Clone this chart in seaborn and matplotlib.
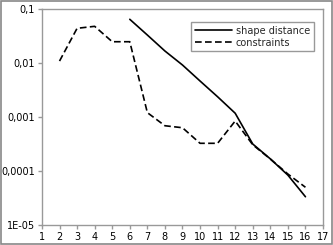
import matplotlib
matplotlib.use("Agg")
import matplotlib.pyplot as plt
import seaborn as sns
import pandas as pd
from matplotlib.patches import Rectangle

shape_x = [6, 7, 8, 9, 10, 11, 12, 13, 14, 15, 16]
shape_y = [0.0653, 0.0334, 0.0169, 0.0093, 0.0047, 0.0024, 0.00119, 0.00032, 0.00017, 0.000085, 0.0000338]
cons_x = [2, 3, 4, 5, 6, 7, 8, 9, 10, 11, 12, 13, 14, 15, 16]
cons_y = [0.0110, 0.0445, 0.0484, 0.0251, 0.0251, 0.00122, 0.000698, 0.000641, 0.00033, 0.00033,
          0.000853, 0.00031, 0.000169, 0.0000891, 0.0000506]
series_names = ["shape distance", "constraints"]
xticks = list(range(1, 18))
yticks = [1e-5, 1e-4, 1e-3, 1e-2, 1e-1]
ytick_labels = ["1E-05", "0,0001", "0,001", "0,01", "0,1"]

df = pd.concat([
    pd.DataFrame({"x": shape_x, "y": shape_y, "series": series_names[0]}),
    pd.DataFrame({"x": cons_x, "y": cons_y, "series": series_names[1]}),
])

sns.set_style("white")
plt.rcParams["font.family"] = ["DejaVu Sans"]

fig = plt.figure(figsize=(3.33, 2.45), dpi=100)
ax = fig.add_axes([0.126, 0.0804, 0.844, 0.8816])

sns.lineplot(data=df, x="x", y="y", style="series", color="black",
             dashes={series_names[0]: "", series_names[1]: (4, 2)},
             linewidth=1.2, ax=ax, estimator=None, sort=False)

ax.set_yscale("log")
ax.set_xlim(1, 17)
ax.set_ylim(1e-5, 1e-1)
ax.set_xticks(xticks)
ax.set_xticklabels([str(t) for t in xticks], fontsize=7)
ax.set_yticks(yticks)
ax.set_yticklabels(ytick_labels, fontsize=7)
ax.minorticks_off()
ax.set_xlabel("")
ax.set_ylabel("")

for s in ax.spines.values():
    s.set_color("#999999")
    s.set_linewidth(1.0)
ax.tick_params(axis="both", which="major", direction="out", length=3, width=1,
               color="#999999", labelcolor="black", pad=2)
ax.tick_params(bottom=True, left=True, top=False, right=False)

leg = ax.legend(loc="upper right", fontsize=7, frameon=True, fancybox=False,
                framealpha=1, edgecolor="#999999", handlelength=3.8,
                borderpad=0.4, labelspacing=0.2, handletextpad=0.4,
                bbox_to_anchor=(0.985, 0.965))
leg.get_frame().set_linewidth(1.0)

fig.patches.append(Rectangle((0.002, 0.003), 0.995, 0.994, transform=fig.transFigure,
                             fill=False, edgecolor="#888888", linewidth=1.2))

fig.savefig("out.png", dpi=100)
